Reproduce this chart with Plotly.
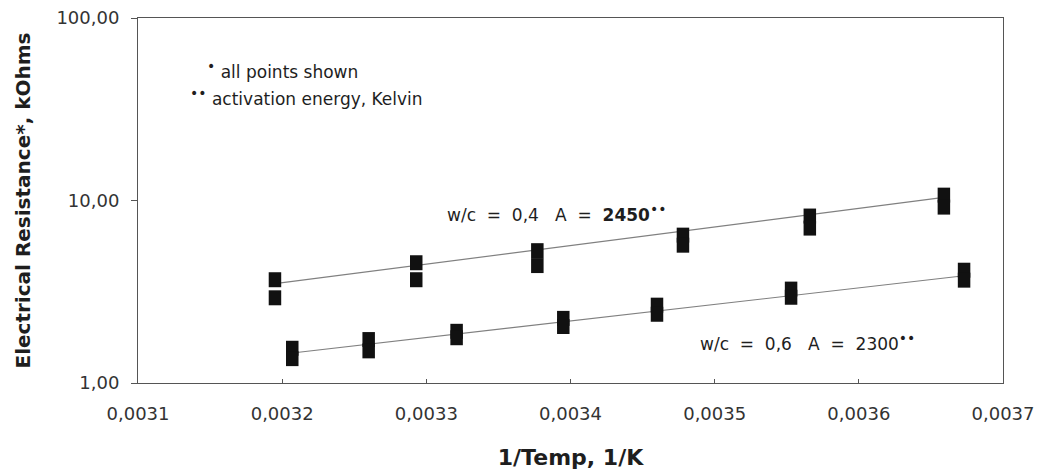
import plotly.graph_objects as go

# ---- data ----
x_wc04 = [0.003195, 0.003195, 0.003293, 0.003293, 0.003377, 0.003377,
          0.003478, 0.003478, 0.003566, 0.003566, 0.003659, 0.003659]
r_wc04 = [3.68, 2.93, 4.56, 3.68, 5.31, 4.40, 6.46, 5.69, 8.22, 7.06, 10.7, 9.2]

x_wc06 = [0.003207, 0.003207, 0.003260, 0.003260, 0.003321, 0.003321, 0.003395, 0.003395,
          0.003460, 0.003460, 0.003553, 0.003553, 0.003673, 0.003673]
r_wc06 = [1.55, 1.36, 1.73, 1.50, 1.92, 1.77, 2.26, 2.04, 2.67, 2.38, 3.27, 2.95, 4.15, 3.66]

fit_x_wc04 = [0.003195, 0.003659]
fit_r_wc04 = [3.50, 10.4]
fit_x_wc06 = [0.003207, 0.003673]
fit_r_wc06 = [1.46, 3.87]

x_ticks = [0.0031, 0.0032, 0.0033, 0.0034, 0.0035, 0.0036, 0.0037]
x_ticktext = ["0,0031", "0,0032", "0,0033", "0,0034", "0,0035", "0,0036", "0,0037"]
y_ticks = [1, 10, 100]
y_ticktext = ["1,00", "10,00", "100,00"]

FONT = "DejaVu Sans, Verdana, sans-serif"
TXT = "#1e1e1e"
LINE = "#808080"
NB = "\u00a0"
DOT1 = "<sup><span style='font-size:14px'>•</span></sup>"
DOT2 = "<sup><span style='font-size:14px'>••</span></sup>"

fig = go.Figure()
for fx, fr in [(fit_x_wc04, fit_r_wc04), (fit_x_wc06, fit_r_wc06)]:
    fig.add_trace(go.Scatter(x=fx, y=fr, mode="lines",
                             line=dict(color=LINE, width=1.2), showlegend=False,
                             hoverinfo="skip"))
for xs, rs in [(x_wc04, r_wc04), (x_wc06, r_wc06)]:
    fig.add_trace(go.Scatter(x=xs, y=rs, mode="markers", showlegend=False,
                             marker=dict(symbol="line-ns", size=10.7, color="#111111",
                                         line=dict(color="#111111", width=12.5))))

fig.update_layout(
    width=1060, height=473,
    margin=dict(l=138, r=57, t=18, b=90),
    paper_bgcolor="white", plot_bgcolor="white",
    font=dict(family=FONT, size=17, color=TXT),
    showlegend=False,
)
fig.update_xaxes(
    range=[0.0031, 0.0037], tickvals=x_ticks, ticktext=x_ticktext, automargin=False,
    showgrid=False, zeroline=False, showline=True, linecolor="#555555", linewidth=1,
    mirror=True, ticks="inside", ticklen=4, tickcolor="#555555",
    tickfont=dict(size=18, color="#333333"), ticklabelstandoff=14,
    title=dict(text="<b>1/Temp, 1/K</b>", font=dict(size=22, color=TXT), standoff=27),
)
fig.update_yaxes(
    type="log", range=[0, 2], tickvals=y_ticks, ticktext=y_ticktext, automargin=False,
    showgrid=False, zeroline=False, showline=True, linecolor="#555555", linewidth=1,
    mirror=True, ticks="outside", ticklen=6, tickcolor="#555555",
    tickfont=dict(size=18, color="#333333"), ticklabelstandoff=8,
    title=dict(text="<b>Electrical Resistance*, kOhms</b>", font=dict(size=20, color=TXT),
               standoff=20),
)

ann = dict(xref="paper", yref="paper", showarrow=False, xanchor="left", yanchor="middle",
           font=dict(size=17, color=TXT, family=FONT))
fig.add_annotation(x=0.0775, y=0.858, text=f"{DOT1} all points shown", **ann)
fig.add_annotation(x=0.058, y=0.784, text=f"{DOT2} activation energy, Kelvin", **ann)
fig.add_annotation(x=0.355, y=0.466,
                   text=f"w/c{NB*2}={NB*2}0,4{NB*3}A{NB*2}={NB*2}<b>2450</b>{DOT2}", **ann)
fig.add_annotation(x=0.647, y=0.112,
                   text=f"w/c{NB*2}={NB*2}0,6{NB*3}A{NB*2}={NB*2}2300{DOT2}", **ann)

fig.write_html("out.html")
